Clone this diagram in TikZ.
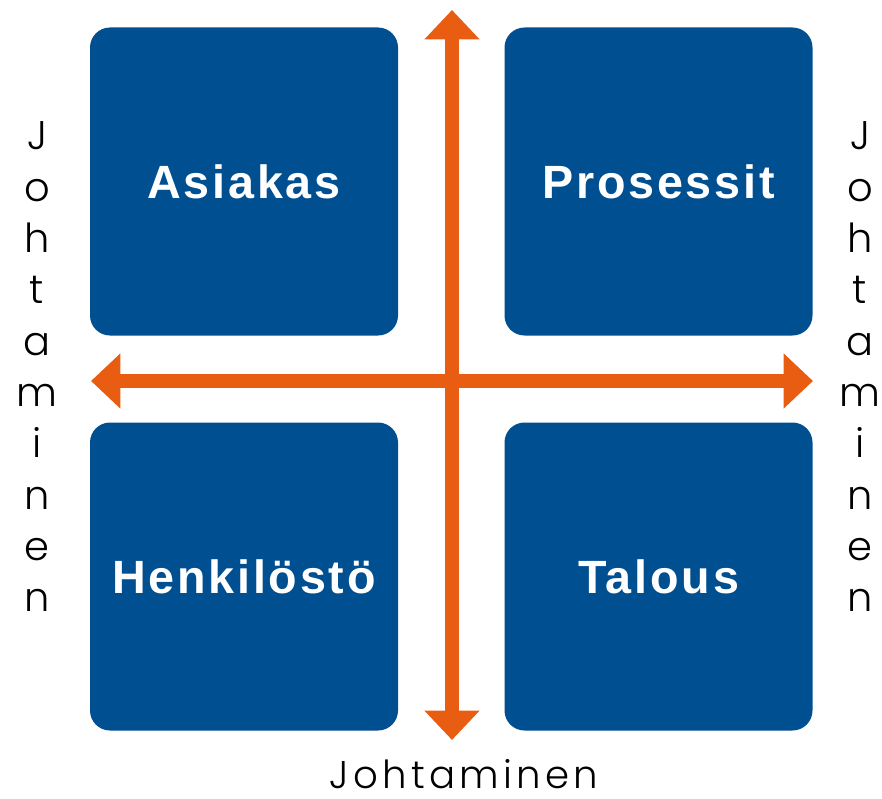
\documentclass[tikz,border=0pt]{standalone}
\usepackage{fontspec}
\setmainfont{Liberation Sans}
\newfontfamily\boxfont[LetterSpace=6]{Liberation Sans Bold}
\newfontfamily\thinfont{Poppins Light}
\newfontfamily\spacedfont[LetterSpace=11]{Poppins Light}
\usetikzlibrary{arrows.meta}
\definecolor{quadblue}{RGB}{0,79,145}
\definecolor{axisorange}{RGB}{232,93,18}

\begin{document}
\begin{tikzpicture}[x=0.75pt,y=-0.75pt,
  quad/.style={fill=quadblue,rounded corners=15pt,minimum size=231pt,inner sep=0pt,
    text=white,font=\boxfont\fontsize{35}{40}\selectfont},
  axis/.style={axisorange,line width=10.5pt,
    {Triangle[width=40pt,length=22pt]}-{Triangle[width=40pt,length=22pt]}},
  sidetext/.style={align=center,inner sep=0pt,font=\thinfont\fontsize{30}{38.5}\selectfont},
  bottomtext/.style={inner sep=0pt,font=\spacedfont\fontsize{29}{34}\selectfont}]
  \useasboundingbox (0,0) rectangle (882,799);

  % boxes
  \node[quad,at={(244,181.5)}] (asiakas) {Asiakas};
  \node[quad,at={(658.5,181.5)}] (prosessit) {Prosessit};
  \node[quad,at={(244,576.5)}] (henkilosto) {Henkilöstö};
  \node[quad,at={(658.5,576.5)}] (talous) {Talous};

  % axes
  \coordinate (top) at (452,10);
  \coordinate (bottom) at (452,740);
  \coordinate (left) at (91,381);
  \coordinate (right) at (813,381);
  \draw[axis] (bottom) -- (top);
  \draw[axis] (left) -- (right);

  % labels
  \node[sidetext,at={(37,367)}] (westlabel) {J\\o\\h\\t\\a\\m\\i\\n\\e\\n};
  \node[sidetext,at={(860,367)}] (eastlabel) {J\\o\\h\\t\\a\\m\\i\\n\\e\\n};
  \node[bottomtext,at={(464,774)}] (southlabel) {Johtaminen};
\end{tikzpicture}
\end{document}
